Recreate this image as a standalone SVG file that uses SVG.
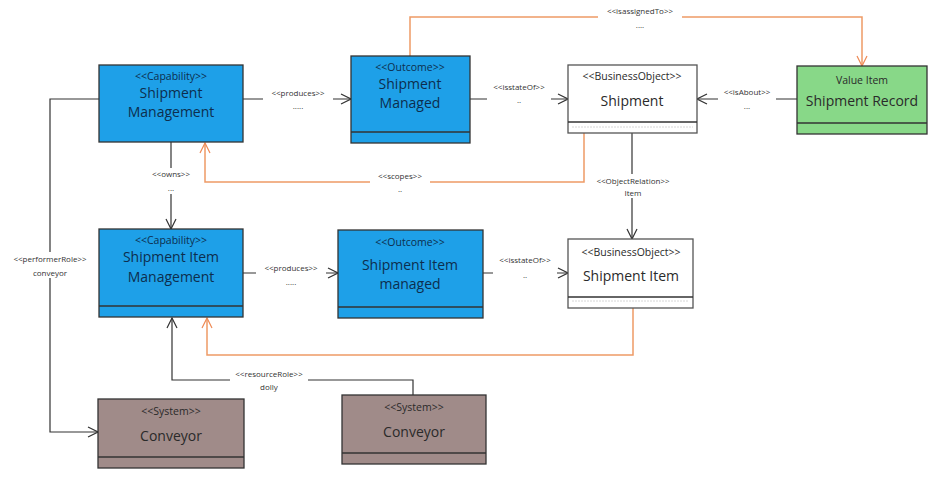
<svg xmlns="http://www.w3.org/2000/svg" width="938" height="481" viewBox="0 0 938 481">
<defs>
<marker id="ab" viewBox="0 0 12 12" refX="11" refY="6" markerWidth="12" markerHeight="12" markerUnits="userSpaceOnUse" orient="auto"><path d="M1,1 L11,6 L1,11" fill="none" stroke="#333" stroke-width="1.2"/></marker>
<marker id="ao" viewBox="0 0 12 12" refX="11" refY="6" markerWidth="12" markerHeight="12" markerUnits="userSpaceOnUse" orient="auto"><path d="M1,1 L11,6 L1,11" fill="none" stroke="#ee8a55" stroke-width="1.2"/></marker>
</defs>
<style>
.box{stroke:#333;stroke-width:1.3}
.blue{fill:#1ea0e8}
.white{fill:#fff;stroke:#555}
.green{fill:#88d888}
.brown{fill:#a08b89}
.st{font-family:"Open Sans","DejaVu Sans",sans-serif;font-size:10.5px;text-anchor:middle}
.nm{font-family:"Open Sans","DejaVu Sans",sans-serif;font-size:14px;text-anchor:middle}
.bt{fill:#0d2e4e}
.dk{fill:#2a2a2a}
.lb{font-family:"Open Sans","DejaVu Sans",sans-serif;font-size:8px;text-anchor:middle;fill:#333}
.e{fill:none;stroke:#333;stroke-width:1.2}
.o{fill:none;stroke:#ee9a66;stroke-width:1.5}
.bg{fill:#fff}
</style>
<rect width="938" height="481" fill="#fff"/>
<g id="connectors">
<path class="o" d="M410,56 V17 H862 V66" marker-end="url(#ao)"/>
<path class="o" d="M584,133 V182 H205 V143" marker-end="url(#ao)"/>
<path class="o" d="M633,308 V355 H207 V318" marker-end="url(#ao)"/>
<path class="e" d="M243,99 H351" marker-end="url(#ab)"/>
<path class="e" d="M470,99 H568" marker-end="url(#ab)"/>
<path class="e" d="M797,99 H697" marker-end="url(#ab)"/>
<path class="e" d="M171,142 V229" marker-end="url(#ab)"/>
<path class="e" d="M632,133 V239" marker-end="url(#ab)"/>
<path class="e" d="M243,273 H338" marker-end="url(#ab)"/>
<path class="e" d="M483,273 H568" marker-end="url(#ab)"/>
<path class="e" d="M413,395 V380 H172 V318" marker-end="url(#ab)"/>
<path class="e" d="M99,99 H50 V432 H98" marker-end="url(#ab)" stroke="#555"/>
<rect class="bg" x="598" y="5" width="84" height="26"/>
<text class="lb" x="640" y="14">&lt;&lt;isassignedTo&gt;&gt;</text><text class="lb" x="640" y="28">....</text>
<rect class="bg" x="263" y="86" width="70" height="26"/>
<text class="lb" x="298" y="96">&lt;&lt;produces&gt;&gt;</text><text class="lb" x="298" y="109">.....</text>
<rect class="bg" x="487" y="80" width="64" height="26"/>
<text class="lb" x="519" y="90">&lt;&lt;isstateOf&gt;&gt;</text><text class="lb" x="519" y="103">..</text>
<rect class="bg" x="718" y="85" width="58" height="26"/>
<text class="lb" x="747" y="95">&lt;&lt;isAbout&gt;&gt;</text><text class="lb" x="747" y="109">...</text>
<rect class="bg" x="370" y="170" width="60" height="26"/>
<text class="lb" x="400" y="179">&lt;&lt;scopes&gt;&gt;</text><text class="lb" x="400" y="192">..</text>
<rect class="bg" x="145" y="168" width="52" height="26"/>
<text class="lb" x="171" y="177">&lt;&lt;owns&gt;&gt;</text><text class="lb" x="171" y="191">...</text>
<rect class="bg" x="590" y="174" width="86" height="24"/>
<text class="lb" x="633" y="184">&lt;&lt;ObjectRelation&gt;&gt;</text><text class="lb" x="633" y="196">Item</text>
<rect class="bg" x="256" y="262" width="70" height="26"/>
<text class="lb" x="291" y="271">&lt;&lt;produces&gt;&gt;</text><text class="lb" x="291" y="285">.....</text>
<rect class="bg" x="493" y="254" width="64" height="26"/>
<text class="lb" x="525" y="263">&lt;&lt;isstateOf&gt;&gt;</text><text class="lb" x="525" y="278">..</text>
<rect class="bg" x="230" y="367" width="78" height="24"/>
<text class="lb" x="269" y="377">&lt;&lt;resourceRole&gt;&gt;</text><text class="lb" x="269" y="390">dolly</text>
<rect class="bg" x="6" y="252" width="88" height="26"/>
<text class="lb" x="50" y="262">&lt;&lt;performerRole&gt;&gt;</text><text class="lb" x="50" y="276">conveyor</text>
</g>
<g id="shipment-management">
<rect class="box blue" x="99" y="65" width="144" height="77"/>
<text class="st bt" x="171" y="80">&lt;&lt;Capability&gt;&gt;</text>
<text class="nm bt" x="171" y="98">Shipment</text>
<text class="nm bt" x="171" y="117">Management</text>
</g>
<g id="shipment-managed">
<rect class="box blue" x="351" y="56" width="119" height="87"/>
<line class="box" x1="351" y1="132" x2="470" y2="132"/>
<text class="st bt" x="410" y="71">&lt;&lt;Outcome&gt;&gt;</text>
<text class="nm bt" x="410" y="89">Shipment</text>
<text class="nm bt" x="410" y="108">Managed</text>
</g>
<g id="shipment">
<rect class="box white" x="568" y="65" width="129" height="68"/>
<line class="box" x1="568" y1="122" x2="697" y2="122" stroke="#555"/>
<line x1="572" y1="127" x2="693" y2="127" stroke="#ccc" stroke-width="0.8" stroke-dasharray="2,1"/>
<text class="st dk" x="632" y="80">&lt;&lt;BusinessObject&gt;&gt;</text>
<text class="nm dk" x="632" y="106">Shipment</text>
</g>
<g id="shipment-record">
<rect class="box green" x="797" y="66" width="130" height="68"/>
<line class="box" x1="797" y1="123" x2="927" y2="123"/>
<text class="st dk" x="862" y="84">Value Item</text>
<text class="nm dk" x="862" y="106">Shipment Record</text>
</g>
<g id="shipment-item-management">
<rect class="box blue" x="99" y="229" width="144" height="88"/>
<line class="box" x1="99" y1="306" x2="243" y2="306"/>
<text class="st bt" x="171" y="244">&lt;&lt;Capability&gt;&gt;</text>
<text class="nm bt" x="171" y="262">Shipment Item</text>
<text class="nm bt" x="171" y="282">Management</text>
</g>
<g id="shipment-item-managed">
<rect class="box blue" x="338" y="230" width="145" height="88"/>
<line class="box" x1="338" y1="307" x2="483" y2="307"/>
<text class="st bt" x="410" y="246">&lt;&lt;Outcome&gt;&gt;</text>
<text class="nm bt" x="410" y="270">Shipment Item</text>
<text class="nm bt" x="410" y="289">managed</text>
</g>
<g id="shipment-item">
<rect class="box white" x="568" y="239" width="125" height="69"/>
<line class="box" x1="568" y1="297" x2="693" y2="297" stroke="#555"/>
<line x1="572" y1="301" x2="689" y2="301" stroke="#ccc" stroke-width="0.8" stroke-dasharray="2,1"/>
<text class="st dk" x="631" y="256">&lt;&lt;BusinessObject&gt;&gt;</text>
<text class="nm dk" x="631" y="281">Shipment Item</text>
</g>
<g id="conveyor-1">
<rect class="box brown" x="98" y="399" width="146" height="69"/>
<line class="box" x1="98" y1="457" x2="244" y2="457"/>
<text class="st dk" x="171" y="415">&lt;&lt;System&gt;&gt;</text>
<text class="nm dk" x="171" y="441">Conveyor</text>
</g>
<g id="conveyor-2">
<rect class="box brown" x="342" y="395" width="144" height="69"/>
<line class="box" x1="342" y1="453" x2="486" y2="453"/>
<text class="st dk" x="414" y="411">&lt;&lt;System&gt;&gt;</text>
<text class="nm dk" x="414" y="437">Conveyor</text>
</g>
</svg>
